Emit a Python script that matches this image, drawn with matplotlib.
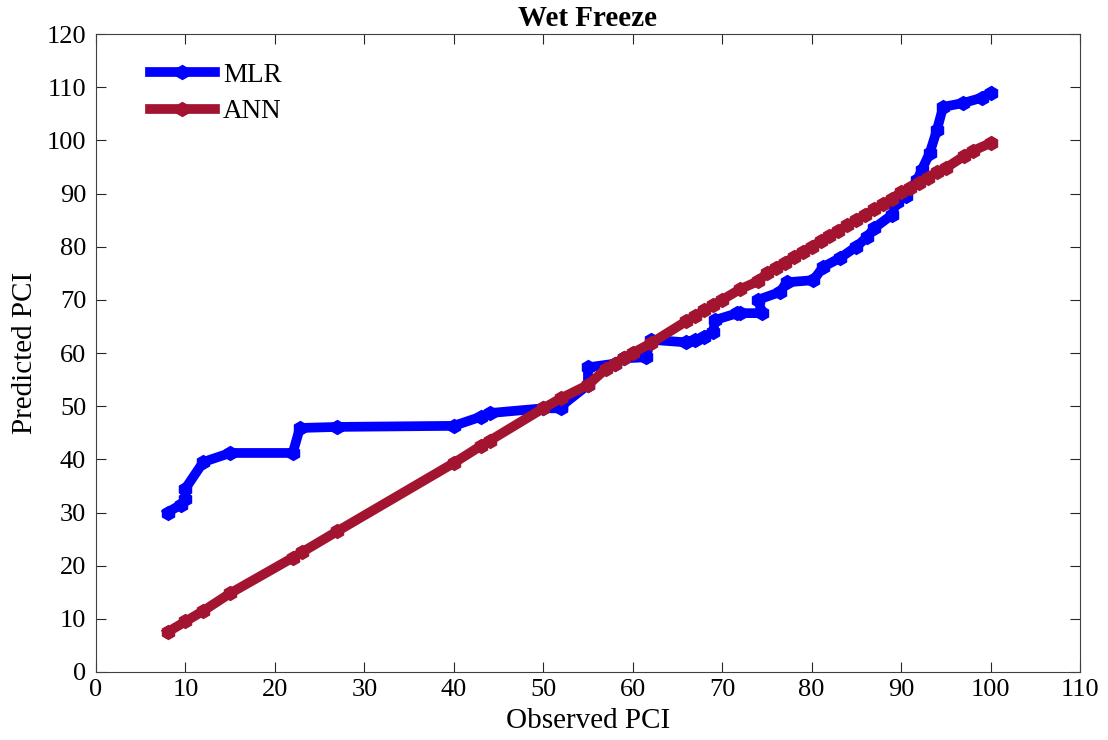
"""Wet Freeze: predicted vs observed PCI for MLR and ANN"""

import matplotlib
matplotlib.use('Agg')
import matplotlib.pyplot as plt

# MLR (sorted observed vs predicted)
mlr_x = [8, 9.5, 10, 10, 12, 15, 22, 22.8, 27, 40, 43, 44, 50, 52, 52, 55, 55,
         58, 59, 61.5, 62, 66, 67, 68, 69, 69.2, 71.7, 72, 74.5, 74, 76.5, 77.2,
         80.2, 81.3, 83.2, 85, 86.2, 87, 89, 89.5, 90.5, 91.8, 92.3, 93.2, 94,
         94.7, 96.9, 99, 100]
mlr_y = [30, 31.5, 32.5, 34.5, 39.5, 41.2, 41.2, 45.9, 46.1, 46.3, 48, 48.7,
         49.6, 49.6, 50, 54, 57.3, 58, 59, 59.2, 62.5, 62, 62.5, 63, 64, 66.2,
         67.5, 67.5, 67.5, 70, 71.5, 73.3, 73.7, 76.2, 77.9, 80, 81.8, 83.5,
         86, 88.5, 89.5, 92.5, 94.4, 97.6, 101.9, 106.3, 107, 108, 109]

# ANN
ann_x = [8, 10, 12, 15, 22, 23, 27, 40, 43, 44, 50, 52, 55, 57, 58, 59, 60, 62,
         66, 67, 68, 69, 70, 72, 74, 75, 76, 77, 78, 79, 80, 81, 82, 83, 84, 85,
         86, 87, 88, 89, 90, 91, 92, 93, 94, 95, 97, 98, 100]
ann_y = [7.5, 9.5, 11.5, 14.8, 21.5, 22.5, 26.5, 39.3, 42.5, 43.5, 49.6, 51.5,
         54, 57, 58, 59, 60, 61.8, 66, 67, 68, 69, 70, 72, 73.5, 75, 76, 77, 78,
         79, 80, 81, 82, 83, 84, 85, 86, 87, 88, 89, 90.3, 91, 92, 93, 94, 94.8,
         97, 98, 99.5]

plt.rcParams['font.family'] = ['Liberation Serif', 'DejaVu Serif']

fig = plt.figure(figsize=(11.08, 7.40), dpi=100)
ax = fig.add_axes([0.0866, 0.0919, 0.8881, 0.8621])

ax.plot(mlr_x, mlr_y, color='#0000FF', lw=7, marker='h', ms=10, label='MLR')
ax.plot(ann_x, ann_y, color='#A2142F', lw=7, marker='h', ms=10, label='ANN')

ax.set_xlim(0, 110)
ax.set_ylim(0, 120)
ax.set_xticks(range(0, 111, 10))
ax.set_yticks(range(0, 121, 10))
ax.tick_params(direction='in', top=True, right=True, labelsize=19, length=7,
               colors='#262626', labelcolor='black')
ax.tick_params(axis='y', pad=7)
ax.tick_params(axis='x', pad=5)
for s in ax.spines.values():
    s.set_color('#404040')

ax.set_xlabel('Observed PCI', fontsize=21, labelpad=5)
ax.set_ylabel('Predicted PCI', fontsize=21, labelpad=6)
ax.set_title('Wet Freeze', fontsize=21, fontweight='bold', pad=6)

ax.legend(loc='upper left', frameon=False, fontsize=19.5, handlelength=2.4,
          handletextpad=0.3, bbox_to_anchor=(0.03, 0.993), labelspacing=0.42)

plt.savefig('out.png', dpi=100)
